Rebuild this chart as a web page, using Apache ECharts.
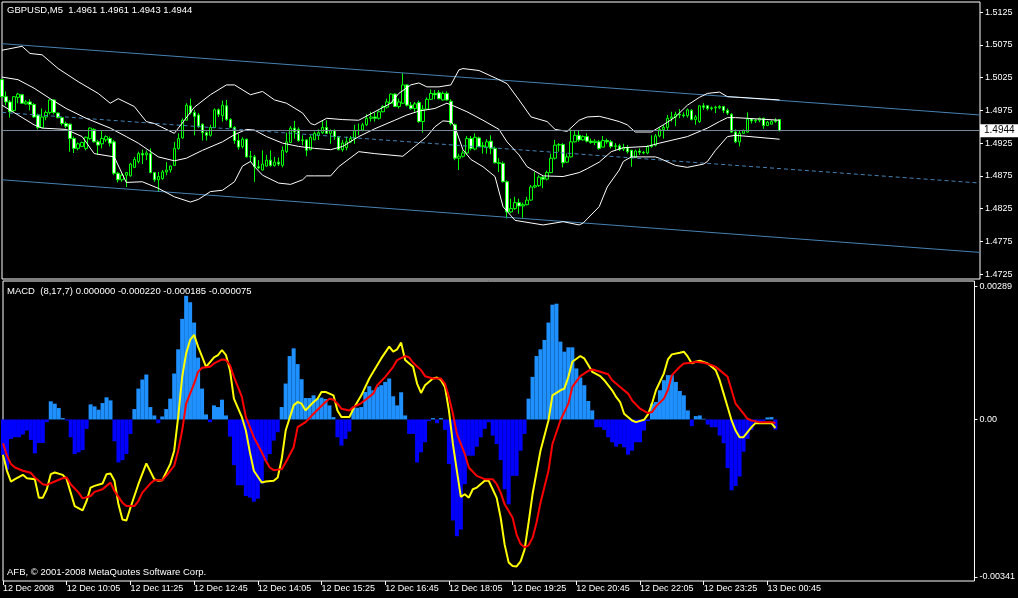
<!DOCTYPE html>
<html><head><meta charset="utf-8">
<script src="https://cdn.jsdelivr.net/npm/echarts@6/dist/echarts.min.js"></script>
<style>html,body{margin:0;padding:0;background:#000;}#c{width:1018px;height:598px;}</style>
</head><body><div id="c"></div>
<script>
const symbolName = 'GBPUSD,M5';
const timeLabels = ['12 Dec 2008','12 Dec 10:05','12 Dec 11:25','12 Dec 12:45','12 Dec 14:05','12 Dec 15:25','12 Dec 16:45','12 Dec 18:05','12 Dec 19:25','12 Dec 20:45','12 Dec 22:05','12 Dec 23:25','13 Dec 00:45'];
const priceTicks = [1.5125,1.5075,1.5025,1.4975,1.4925,1.4875,1.4825,1.4775,1.4725];
const macdTicks = [0.00289, 0, -0.00341];
const macdHeader = 'MACD  (8,17,7) 0.000000 -0.000220 -0.000185 -0.000075';
const copyright = 'AFB, \u00A9 2001-2008 MetaQuotes Software Corp.';
const bidPrice = 1.4944;

const opens = [1.5022,1.4996,1.4988,1.4975,1.4995,1.4999,1.4985,1.4988,1.4984,1.4968,
1.4949,1.4965,1.4972,1.4991,1.4971,1.4964,1.4955,1.4954,1.4932,1.4917,
1.4920,1.4917,1.4932,1.4946,1.4927,1.4924,1.4930,1.4932,1.4927,1.4879,
1.4869,1.4876,1.4875,1.4888,1.4897,1.4909,1.4907,1.4909,1.4880,1.4869,
1.4871,1.4881,1.4884,1.4891,1.4917,1.4933,1.4960,1.4982,1.4972,1.4968,
1.4954,1.4941,1.4937,1.4949,1.4976,1.4967,1.4982,1.4961,1.4949,1.4929,
1.4920,1.4931,1.4904,1.4904,1.4889,1.4884,1.4890,1.4899,1.4891,1.4896,
1.4891,1.4912,1.4926,1.4948,1.4946,1.4929,1.4930,1.4915,1.4930,1.4937,
1.4941,1.4949,1.4940,1.4944,1.4934,1.4915,1.4918,1.4927,1.4932,1.4944,
1.4945,1.4953,1.4963,1.4965,1.4963,1.4973,1.4980,1.4986,1.5000,1.4981,
1.4986,1.5014,1.4983,1.4978,1.4987,1.4958,1.4977,1.4992,1.5001,1.5002,
1.4991,1.5001,1.4989,1.4953,1.4902,1.4905,1.4910,1.4932,1.4916,1.4933,
1.4920,1.4919,1.4928,1.4917,1.4895,1.4894,1.4866,1.4820,1.4825,1.4834,
1.4829,1.4831,1.4838,1.4858,1.4860,1.4873,1.4870,1.4880,1.4902,1.4922,
1.4923,1.4896,1.4904,1.4927,1.4937,1.4930,1.4935,1.4928,1.4926,1.4927,
1.4919,1.4929,1.4927,1.4920,1.4921,1.4916,1.4918,1.4914,1.4903,1.4913,
1.4911,1.4910,1.4920,1.4922,1.4936,1.4946,1.4949,1.4963,1.4965,1.4969,
1.4968,1.4967,1.4975,1.4961,1.4958,1.4982,1.4982,1.4978,1.4979,1.4979,
1.4981,1.4975,1.4969,1.4942,1.4927,1.4940,1.4942,1.4962,1.4959,1.4960,
1.4963,1.4952,1.4954,1.4958,1.4961];
const highs = [1.5023,1.5004,1.4991,1.4997,1.5002,1.5000,1.4991,1.4992,1.4986,1.4970,
1.4978,1.4975,1.4992,1.4992,1.4972,1.4965,1.4958,1.4955,1.4935,1.4926,
1.4927,1.4935,1.4949,1.4948,1.4930,1.4945,1.4937,1.4935,1.4930,1.4881,
1.4879,1.4881,1.4895,1.4904,1.4912,1.4915,1.4914,1.4917,1.4881,1.4881,
1.4884,1.4896,1.4891,1.4927,1.4940,1.4963,1.4986,1.4993,1.4976,1.4971,
1.4955,1.4943,1.4953,1.4978,1.4978,1.4990,1.4991,1.4963,1.4951,1.4939,
1.4934,1.4932,1.4913,1.4907,1.4899,1.4914,1.4907,1.4914,1.4904,1.4903,
1.4920,1.4941,1.4951,1.4959,1.4949,1.4937,1.4931,1.4937,1.4943,1.4946,
1.4959,1.4960,1.4946,1.4946,1.4936,1.4930,1.4935,1.4936,1.4953,1.4955,
1.4956,1.4969,1.4973,1.4972,1.4975,1.4983,1.4993,1.5001,1.5001,1.4993,
1.5032,1.5015,1.4988,1.4988,1.4990,1.4983,1.4995,1.5007,1.5006,1.5006,
1.5004,1.5004,1.4992,1.4955,1.4909,1.4914,1.4936,1.4936,1.4940,1.4935,
1.4927,1.4931,1.4937,1.4920,1.4902,1.4897,1.4868,1.4840,1.4843,1.4840,
1.4834,1.4843,1.4861,1.4881,1.4876,1.4875,1.4883,1.4909,1.4930,1.4925,
1.4925,1.4909,1.4946,1.4945,1.4944,1.4937,1.4940,1.4932,1.4931,1.4930,
1.4936,1.4932,1.4930,1.4925,1.4924,1.4924,1.4922,1.4915,1.4915,1.4917,
1.4913,1.4922,1.4937,1.4939,1.4949,1.4953,1.4968,1.4973,1.4973,1.4977,
1.4972,1.4978,1.4977,1.4968,1.4983,1.4986,1.4983,1.4981,1.4982,1.4983,
1.4982,1.4978,1.4971,1.4946,1.4945,1.4946,1.4972,1.4963,1.4962,1.4964,
1.4964,1.4959,1.4960,1.4963,1.4961];
const lows = [1.4995,1.4983,1.4964,1.4973,1.4986,1.4985,1.4984,1.4975,1.4964,1.4946,
1.4948,1.4960,1.4969,1.4969,1.4963,1.4952,1.4948,1.4912,1.4910,1.4914,
1.4919,1.4914,1.4930,1.4926,1.4907,1.4917,1.4927,1.4920,1.4876,1.4865,
1.4866,1.4858,1.4874,1.4888,1.4894,1.4893,1.4899,1.4879,1.4866,1.4851,
1.4869,1.4876,1.4880,1.4890,1.4915,1.4932,1.4960,1.4969,1.4937,1.4948,
1.4929,1.4929,1.4935,1.4948,1.4965,1.4958,1.4959,1.4948,1.4924,1.4915,
1.4917,1.4903,1.4896,1.4866,1.4885,1.4883,1.4889,1.4889,1.4889,1.4890,
1.4888,1.4910,1.4925,1.4932,1.4927,1.4922,1.4905,1.4914,1.4930,1.4930,
1.4939,1.4939,1.4924,1.4930,1.4914,1.4912,1.4914,1.4925,1.4924,1.4937,
1.4943,1.4951,1.4958,1.4958,1.4961,1.4972,1.4978,1.4985,1.4980,1.4978,
1.4985,1.4981,1.4976,1.4973,1.4956,1.4941,1.4977,1.4991,1.4992,1.4992,
1.4990,1.4990,1.4952,1.4899,1.4884,1.4903,1.4907,1.4914,1.4914,1.4919,
1.4909,1.4909,1.4908,1.4894,1.4881,1.4865,1.4810,1.4818,1.4823,1.4817,
1.4811,1.4830,1.4837,1.4856,1.4858,1.4856,1.4868,1.4879,1.4900,1.4912,
1.4888,1.4895,1.4903,1.4926,1.4927,1.4929,1.4926,1.4924,1.4922,1.4915,
1.4919,1.4924,1.4917,1.4914,1.4913,1.4913,1.4909,1.4889,1.4903,1.4907,
1.4908,1.4908,1.4918,1.4920,1.4934,1.4932,1.4945,1.4958,1.4951,1.4963,
1.4964,1.4964,1.4960,1.4953,1.4956,1.4976,1.4975,1.4975,1.4971,1.4977,
1.4971,1.4968,1.4941,1.4925,1.4920,1.4939,1.4941,1.4955,1.4956,1.4957,
1.4947,1.4951,1.4954,1.4956,1.4943];
const closes = [1.4996,1.4988,1.4973,1.4996,1.5000,1.4986,1.4988,1.4984,1.4965,1.4949,
1.4965,1.4972,1.4991,1.4972,1.4964,1.4955,1.4951,1.4932,1.4917,1.4924,
1.4926,1.4934,1.4948,1.4927,1.4922,1.4932,1.4935,1.4925,1.4879,1.4869,
1.4876,1.4880,1.4893,1.4900,1.4909,1.4907,1.4910,1.4880,1.4869,1.4874,
1.4881,1.4884,1.4890,1.4917,1.4932,1.4960,1.4983,1.4972,1.4966,1.4951,
1.4941,1.4937,1.4949,1.4976,1.4969,1.4983,1.4961,1.4949,1.4929,1.4919,
1.4931,1.4904,1.4905,1.4889,1.4887,1.4893,1.4899,1.4891,1.4896,1.4893,
1.4914,1.4927,1.4948,1.4942,1.4929,1.4930,1.4914,1.4934,1.4940,1.4941,
1.4949,1.4940,1.4944,1.4935,1.4915,1.4925,1.4927,1.4932,1.4944,1.4945,
1.4953,1.4963,1.4965,1.4963,1.4973,1.4981,1.4988,1.5000,1.4981,1.4988,
1.5014,1.4983,1.4978,1.4985,1.4958,1.4977,1.4992,1.5001,1.4999,1.4993,
1.5001,1.4991,1.4955,1.4902,1.4905,1.4910,1.4932,1.4917,1.4934,1.4920,
1.4921,1.4927,1.4917,1.4895,1.4894,1.4866,1.4820,1.4825,1.4834,1.4829,
1.4831,1.4838,1.4858,1.4860,1.4873,1.4870,1.4880,1.4902,1.4922,1.4923,
1.4895,1.4904,1.4927,1.4937,1.4930,1.4935,1.4928,1.4926,1.4928,1.4917,
1.4929,1.4927,1.4920,1.4921,1.4915,1.4918,1.4912,1.4903,1.4913,1.4911,
1.4910,1.4920,1.4922,1.4936,1.4946,1.4949,1.4963,1.4965,1.4969,1.4968,
1.4967,1.4976,1.4961,1.4965,1.4982,1.4980,1.4978,1.4979,1.4980,1.4981,
1.4975,1.4971,1.4942,1.4927,1.4940,1.4944,1.4962,1.4959,1.4960,1.4963,
1.4952,1.4957,1.4958,1.4960,1.4944];

const bbUpper = [[0,1.5067],[5,1.5073],[7,1.5062],[10,1.5060],[14,1.5039],[19,1.5019],[24,1.5001],[27,1.4986],[29,1.4993],[33,1.4981],[36,1.4958],[38,1.4955],[43,1.4940],[48,1.4980],[52,1.4999],[56,1.5014],[58,1.5014],[62,1.4999],[65,1.5004],[68,1.4991],[71,1.4986],[75,1.4971],[77,1.4955],[78,1.4953],[81,1.4963],[85,1.4961],[89,1.4960],[93,1.4973],[97,1.4986],[99,1.5001],[102,1.5014],[104,1.5017],[106,1.5011],[109,1.5011],[112,1.5014],[114,1.5037],[115,1.5039],[119,1.5036],[124,1.5022],[126,1.5016],[129,1.4991],[132,1.4965],[136,1.4958],[138,1.4946],[141,1.4943],[144,1.4960],[146,1.4965],[149,1.4966],[151,1.4963],[154,1.4958],[156,1.4953],[158,1.4942],[162,1.4942],[165,1.4953],[168,1.4965],[171,1.4983],[174,1.4995],[176,1.5001],[179,1.5003],[181,1.4996],[184,1.4995],[194,1.4991]];
const bbMiddle = [[0,1.5026],[4,1.5022],[8,1.5009],[12,1.4993],[16,1.4978],[21,1.4963],[27,1.4948],[31,1.4935],[34,1.4925],[39,1.4904],[43,1.4898],[46,1.4902],[50,1.4914],[55,1.4927],[58,1.4938],[61,1.4946],[63,1.4945],[66,1.4935],[70,1.4925],[74,1.4920],[78,1.4917],[82,1.4915],[85,1.4920],[89,1.4935],[93,1.4947],[98,1.4960],[101,1.4968],[104,1.4974],[108,1.4978],[111,1.4986],[113,1.4981],[116,1.4973],[120,1.4960],[124,1.4946],[126,1.4927],[129,1.4907],[131,1.4889],[135,1.4875],[140,1.4874],[144,1.4880],[146,1.4886],[149,1.4896],[152,1.4912],[155,1.4918],[161,1.4920],[164,1.4925],[171,1.4935],[176,1.4948],[179,1.4958],[181,1.4964],[183,1.4964],[194,1.4960]];
const bbLower = [[0,1.4983],[8,1.4953],[10,1.4948],[16,1.4946],[20,1.4935],[23,1.4909],[28,1.4904],[31,1.4865],[35,1.4866],[39,1.4856],[43,1.4843],[47,1.4835],[49,1.4839],[52,1.4851],[55,1.4853],[58,1.4866],[60,1.4890],[62,1.4897],[63,1.4889],[65,1.4876],[69,1.4864],[72,1.4862],[75,1.4869],[76,1.4875],[78,1.4875],[82,1.4875],[84,1.4889],[89,1.4912],[93,1.4909],[100,1.4905],[103,1.4920],[106,1.4935],[108,1.4950],[110,1.4959],[112,1.4958],[113,1.4950],[115,1.4915],[117,1.4900],[120,1.4889],[123,1.4874],[125,1.4828],[128,1.4807],[132,1.4803],[135,1.4800],[140,1.4805],[144,1.4800],[145,1.4803],[149,1.4828],[151,1.4858],[154,1.4884],[155,1.4897],[157,1.4904],[163,1.4904],[164,1.4902],[168,1.4891],[171,1.4888],[175,1.4893],[176,1.4897],[178,1.4914],[181,1.4935],[183,1.4937],[194,1.4931]];

const chanUpper = [[0,1.5077],[244,1.4968]];
const chanMiddle = [[0,1.4972],[244,1.4864]];
const chanLower = [[0,1.4869],[244,1.4758]];

const hist = [-0.000771,-0.00109,-0.000422,-0.000385,-0.000385,-0.000327,-0.00024,-0.000443,-0.000734,-0.000509,
-0.000509,-0.000058,0.000393,0.000342,0.000247,0.000029,-0.000022,-0.000385,-0.000749,-0.000712,
-0.000662,-0.000204,0.000327,0.000284,0.000211,0.000356,0.00048,0.000414,-0.000473,-0.000931,
-0.00088,-0.000749,-0.000313,0.000225,0.000669,0.000865,0.000974,0.000269,0.000087,-0.00008,
0.000065,0.000225,0.000451,0.000996,0.00152,0.00218,0.00268,0.00254,0.0021,0.00134,
0.000669,0.000109,-0.000058,0.000305,0.000269,0.000429,0.000087,-0.000371,-0.000989,-0.001425,
-0.001425,-0.001658,-0.001694,-0.001781,-0.001716,-0.001389,-0.000894,-0.000749,-0.000458,-0.000276,
0.000269,0.000778,0.001374,0.001541,0.0012,0.000872,0.000465,0.000465,0.000523,0.000451,
0.000473,0.000443,0.000305,0.000051,-0.000385,-0.000567,-0.000422,-0.000262,0.000254,0.000254,
0.000269,0.000596,0.00072,0.000632,0.000705,0.000742,0.000814,0.000887,0.000502,0.000305,
0.000589,0.000087,-0.000313,-0.000313,-0.000931,-0.000712,-0.000494,-0.000036,0.000029,-0.00008,
0.000029,-0.000225,-0.000967,-0.002188,-0.00253,-0.002385,-0.001403,-0.000785,-0.000785,-0.000589,
-0.000385,-0.000204,-0.000058,-0.000349,-0.000531,-0.00088,-0.001512,-0.001839,-0.001221,-0.001221,
-0.000676,-0.000313,0.000451,0.000923,0.001374,0.00152,0.001723,0.0021,0.002486,0.002508,
0.001687,0.001469,0.001563,0.001563,0.001105,0.000909,0.000742,0.0004,0.000196,-0.000167,
-0.000167,-0.000225,-0.000385,-0.000494,-0.000589,-0.000531,-0.000603,-0.000763,-0.000676,-0.000494,
-0.000494,-0.00024,-0.000036,0.000342,0.000378,0.000632,0.000851,0.00096,0.00096,0.000814,
0.000618,0.000523,0.000196,-0.000145,0.000073,0.000087,0.000015,-0.000109,-0.000167,-0.000167,
-0.000349,-0.000516,-0.001054,-0.001534,-0.001439,-0.001236,-0.000698,-0.000422,-0.000225,-0.000095,
-0.000058,-0.000036,0.000044,0.000051,-0.00022];

const macdMain = [[0,-0.000763],[1,-0.001112],[2,-0.001345],[3,-0.001294],[5,-0.0012],[6,-0.001272],[8,-0.001294],[9,-0.001694],[10,-0.001694],[11,-0.001512],[12,-0.001185],[13,-0.001149],[15,-0.0012],[16,-0.001294],[17,-0.001585],[18,-0.001876],[20,-0.00197],[21,-0.001767],[22,-0.001476],[23,-0.001439],[25,-0.001389],[26,-0.001185],[27,-0.00117],[28,-0.00133],[29,-0.001839],[30,-0.002166],[31,-0.002188],[32,-0.001912],[34,-0.001403],[36,-0.000952],[38,-0.001294],[39,-0.00133],[40,-0.001316],[42,-0.000967],[43,-0.000676],[44,0.000051],[45,0.000923],[46,0.001432],[47,0.001723],[48,0.001832],[49,0.001578],[50,0.00136],[51,0.001141],[53,0.001345],[54,0.001396],[55,0.001505],[56,0.001396],[57,0.001069],[58,0.000451],[60,0.000051],[61,-0.00024],[62,-0.000705],[63,-0.001112],[65,-0.001367],[66,-0.001345],[68,-0.00133],[69,-0.001258],[70,-0.000858],[71,-0.00024],[73,0.000305],[74,0.000378],[75,0.000342],[76,0.000196],[78,0.000378],[79,0.000451],[80,0.000596],[81,0.000596],[83,0.000523],[84,0.000196],[85,0.000051],[87,0.000051],[88,0.000233],[90,0.000523],[92,0.000887],[93,0.001032],[95,0.001323],[97,0.001578],[98,0.001469],[99,0.001519],[100,0.001665],[101,0.001287],[103,0.001141],[104,0.000778],[105,0.000574],[106,0.000742],[108,0.000887],[109,0.000909],[110,0.000851],[111,0.000705],[112,0.000196],[113,-0.000531],[114,-0.001112],[115,-0.001679],[116,-0.001621],[117,-0.001694],[118,-0.001512],[119,-0.001476],[121,-0.00133],[122,-0.00133],[123,-0.001512],[124,-0.0017],[125,-0.00213],[126,-0.002712],[127,-0.003097],[128,-0.003177],[129,-0.003184],[130,-0.003075],[131,-0.002821],[132,-0.002239],[133,-0.001621],[135,-0.000676],[137,-0.000022],[138,0.000523],[140,0.000632],[141,0.000669],[142,0.000923],[143,0.00125],[145,0.001374],[146,0.001323],[147,0.001178],[148,0.001032],[150,0.000938],[151,0.000851],[153,0.000632],[154,0.000487],[155,0.000378],[156,0.000124],[158,-0.000022],[159,-0.000058],[161,-0.000007],[162,0.000109],[163,0.000342],[164,0.000632],[166,0.001],[167,0.001301],[168,0.00141],[170,0.001447],[171,0.001469],[172,0.00136],[173,0.001214],[174,0.00125],[175,0.001272],[177,0.001214],[178,0.001141],[179,0.001069],[180,0.000851],[181,0.00056],[182,0.000269],[183,-0.000022],[184,-0.00024],[185,-0.000385],[186,-0.000385],[187,-0.000276],[188,-0.000167],[189,-0.00008],[190,-0.00008],[192,-0.00008],[193,-0.00008],[194,-0.000185]];
const macdSignal = [[0,-0.000516],[1,-0.000785],[2,-0.000967],[3,-0.00104],[5,-0.001112],[7,-0.001156],[8,-0.001258],[10,-0.001403],[11,-0.001418],[13,-0.001345],[15,-0.001272],[16,-0.001258],[17,-0.001403],[19,-0.001585],[20,-0.001709],[22,-0.001658],[23,-0.00157],[25,-0.001512],[26,-0.001439],[27,-0.001367],[28,-0.001549],[30,-0.001803],[31,-0.001876],[33,-0.001876],[34,-0.001767],[35,-0.001585],[37,-0.001389],[38,-0.001316],[40,-0.001316],[41,-0.001221],[43,-0.001003],[44,-0.000676],[45,-0.00024],[46,0.000342],[48,0.000778],[49,0.001032],[50,0.00112],[52,0.001141],[53,0.001214],[55,0.001301],[56,0.001287],[57,0.001178],[58,0.000923],[60,0.000487],[61,0.000051],[63,-0.000385],[65,-0.000712],[66,-0.000894],[67,-0.00104],[68,-0.001098],[70,-0.001076],[71,-0.000931],[73,-0.000603],[74,-0.000167],[76,-0.000058],[78,0.000124],[79,0.000211],[81,0.000378],[82,0.000451],[83,0.000429],[84,0.000342],[85,0.000233],[87,0.000196],[88,0.000269],[90,0.000356],[93,0.00056],[94,0.000742],[96,0.000923],[98,0.001141],[99,0.001287],[101,0.001374],[102,0.001345],[103,0.001229],[105,0.001069],[106,0.000938],[108,0.000887],[110,0.000887],[111,0.000778],[112,0.000487],[113,0.000124],[114,-0.000313],[116,-0.000749],[117,-0.00104],[119,-0.001221],[121,-0.001294],[123,-0.001294],[124,-0.001403],[125,-0.001585],[126,-0.001839],[128,-0.00213],[129,-0.002494],[130,-0.002697],[131,-0.00277],[132,-0.002726],[133,-0.002566],[134,-0.002239],[135,-0.001803],[137,-0.001112],[138,-0.000531],[140,-0.000022],[142,0.000342],[143,0.000705],[145,0.000938],[147,0.001054],[148,0.001083],[150,0.001032],[152,0.000981],[153,0.000851],[155,0.000705],[157,0.00056],[158,0.000414],[160,0.000233],[162,0.000138],[163,0.00016],[164,0.000284],[166,0.000451],[167,0.00064],[168,0.00096],[170,0.001141],[171,0.001214],[173,0.001229],[174,0.00125],[176,0.001229],[178,0.001178],[179,0.001141],[180,0.001069],[182,0.000923],[183,0.000632],[184,0.000342],[186,0.000124],[187,0.000015],[188,-0.000022],[190,-0.000058],[192,-0.000058],[193,-0.000058],[194,-0.000075]];

// ---- build ----
const SLOTS = 245;           // visible bar slots (incl. empty right margin)
const LABEL_STEP = 16;       // bars between time labels
const cats = Array.from({length: SLOTS}, (_, i) => String(i));
const candles = opens.map((o, i) => [o, closes[i], lows[i], highs[i]]);
const last = opens.length - 1;
const header = symbolName + '  ' + [opens[last], highs[last], lows[last], closes[last]].map(v => v.toFixed(4)).join(' ');
const FONT = '"Liberation Sans", Arial, sans-serif';
const W = '#ffffff';
const isLabelSlot = i => i % LABEL_STEP === 0 && (i / LABEL_STEP) < timeLabels.length;

const chart = echarts.init(document.getElementById('c'), null, {renderer: 'canvas'});
const lineS = (data, color, extra) => Object.assign({
  type: 'line', data, symbol: 'none', silent: true, animation: false,
  lineStyle: {color, width: 1}
}, extra || {});

chart.setOption({
  backgroundColor: '#000000',
  animation: false,
  title: [
    {text: header, left: 7, top: 5, padding: 0, textStyle: {color: W, fontSize: 9.5, fontWeight: 'normal', fontFamily: FONT}},
    {text: macdHeader, left: 7, top: 286, padding: 0, textStyle: {color: W, fontSize: 9.5, fontWeight: 'normal', fontFamily: FONT}},
    {text: copyright, left: 7, top: 567, padding: 0, textStyle: {color: W, fontSize: 9.5, fontWeight: 'normal', fontFamily: FONT}}
  ],
  grid: [
    {left: 2, top: 2, width: 978, height: 277, show: true, borderColor: W, borderWidth: 1, backgroundColor: 'transparent'},
    {left: 2, top: 281, width: 978, height: 300, show: true, borderColor: W, borderWidth: 1, backgroundColor: 'transparent'}
  ],
  xAxis: [
    {gridIndex: 0, type: 'category', data: cats, boundaryGap: false, show: false},
    {gridIndex: 1, type: 'category', data: cats, boundaryGap: false, position: 'bottom',
     axisLine: {show: false, onZero: false},
     axisTick: {show: true, length: 4, interval: isLabelSlot, lineStyle: {color: W}},
     axisLabel: {show: true, interval: isLabelSlot, margin: 3, align: 'left',
       color: W, fontSize: 9, fontFamily: FONT,
       formatter: (v, i) => timeLabels[i / LABEL_STEP] || ''},
     splitLine: {show: false}}
  ],
  yAxis: [
    {gridIndex: 0, type: 'value', position: 'right', min: 1.47174, max: 1.51407,
     axisLine: {show: false}, splitLine: {show: false},
     axisTick: {show: true, length: 3, customValues: priceTicks, lineStyle: {color: W}},
     axisLabel: {show: true, customValues: priceTicks, margin: 5, color: W, fontSize: 9, fontFamily: FONT,
       formatter: v => v.toFixed(4)}},
    {gridIndex: 1, type: 'value', position: 'right', min: -0.0035, max: 0.0030,
     axisLine: {show: false}, splitLine: {show: false},
     axisTick: {show: true, length: 3, customValues: macdTicks, lineStyle: {color: W}},
     axisLabel: {show: true, customValues: macdTicks, margin: 5, color: W, fontSize: 9, fontFamily: FONT,
       formatter: v => v === 0 ? '0.00' : String(v)}}
  ],
  series: [
    lineS(chanUpper, '#4682B4', {xAxisIndex: 0, yAxisIndex: 0,
      markLine: {silent: true, symbol: 'none', animation: false, precision: 4,
        lineStyle: {color: '#778899', type: 'solid', width: 1},
        label: {show: true, position: 'end', distance: 0, formatter: bidPrice.toFixed(4), color: '#000', backgroundColor: '#fff',
          padding: [2, 4, 1, 4], fontSize: 10, fontFamily: FONT},
        data: [{yAxis: bidPrice}]}}),
    lineS(chanLower, '#4682B4', {xAxisIndex: 0, yAxisIndex: 0}),
    lineS(chanMiddle, '#4682B4', {xAxisIndex: 0, yAxisIndex: 0, lineStyle: {color: '#4682B4', width: 1, type: [4, 3]}}),
    {type: 'candlestick', xAxisIndex: 0, yAxisIndex: 0, data: candles, barWidth: 3, silent: true,
     itemStyle: {color: '#000000', color0: '#ffffff', borderColor: '#00ff00', borderColor0: '#00ff00', borderWidth: 1}},
    lineS(bbUpper, W, {xAxisIndex: 0, yAxisIndex: 0}),
    lineS(bbMiddle, W, {xAxisIndex: 0, yAxisIndex: 0}),
    lineS(bbLower, W, {xAxisIndex: 0, yAxisIndex: 0}),
    {type: 'bar', xAxisIndex: 1, yAxisIndex: 1, data: hist, barWidth: 4, silent: true,
     itemStyle: {color: p => p.value >= 0 ? '#1E90FF' : '#0000FF'}},
    lineS(macdMain, '#ffff00', {xAxisIndex: 1, yAxisIndex: 1, lineStyle: {color: '#ffff00', width: 2}}),
    lineS(macdSignal, '#ff0000', {xAxisIndex: 1, yAxisIndex: 1, lineStyle: {color: '#ff0000', width: 2}})
  ]
});
</script>
</body></html>
